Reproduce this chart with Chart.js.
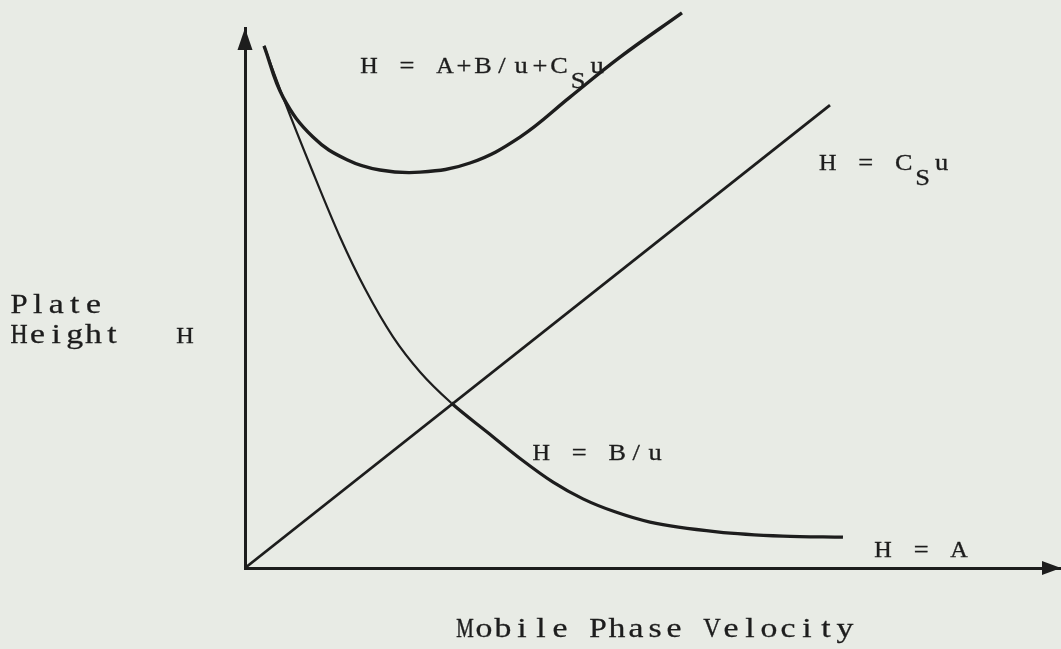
<!DOCTYPE html>
<html>
<head>
<meta charset="utf-8">
<title>Plate Height vs Mobile Phase Velocity</title>
<script src="https://cdn.jsdelivr.net/npm/chart.js@4/dist/chart.umd.min.js"></script>
<style>
  html, body { margin: 0; padding: 0; background: #e8ebe5; }
  #wrap { width: 1061px; height: 649px; }
</style>
</head>
<body>
<div id="wrap"><canvas id="plot" width="1061" height="649"></canvas></div>
<script>
// Van Deemter terms: plate height H against mobile phase velocity u (arbitrary units)

// H = B/u term, flattening out towards H = A
const diffusionU = [0.233, 0.466, 0.821, 1.164, 1.471, 1.814, 2.145, 2.525, 2.966, 3.395, 3.775, 4.142, 4.534, 4.963, 5.784, 6.593, 7.328];
const diffusionH = [9.67, 8.72, 7.37, 6.13, 5.17, 4.28, 3.63, 3.06, 2.52, 2.00, 1.59, 1.28, 1.04, 0.85, 0.67, 0.59, 0.57];

// H = Cs·u term (straight line through the origin)
const massTransferU = [0, 7.169];
const massTransferH = [0, 8.57];

// Overall curve H = A + B/u + Cs·u
const totalU = [0.233, 0.466, 0.833, 1.250, 1.654, 2.145, 2.757, 3.370, 3.983, 4.596, 5.355];
const totalH = [9.67, 8.72, 7.98, 7.56, 7.37, 7.33, 7.50, 7.98, 8.72, 9.46, 10.28];

// Axis extent
const axisMaxU = 10;
const axisMaxH = 10;

// Curve labels (typewriter style, "_" marks a subscript character)
const curveLabels = ['H = A+B/u+C_Su', 'H = C_Su', 'H = B/u', 'H = A'];

const INK = '#1d1d1d';
const PAPER = '#e8ebe5';
const TYPEFACE = "'Liberation Serif', 'DejaVu Serif', serif";

function toPoints(us, hs) {
  return us.map((u, i) => ({ x: u, y: hs[i] }));
}

// where each curve label sits, in data units (centre of first glyph, baseline)
const labelAnchors = [
  { u: 1.52, h: 9.17 },
  { u: 7.14, h: 7.37 },
  { u: 3.63, h: 2.00 },
  { u: 7.82, h: 0.20 }
];

// fixed-pitch "typewriter" text: one glyph per slot, glyphs widened up to
// `widen` but never wider than the slot, lightly stroked for an even weight
function typeText(ctx, text, cx, baseline, advance, subDrop, widen) {
  let slot = 0;
  for (let i = 0; i < text.length; i++) {
    let ch = text[i];
    let sub = false;
    if (ch === '_') { sub = true; ch = text[++i]; }
    if (ch !== ' ') {
      const px = cx + slot * advance;
      const py = baseline + (sub ? subDrop : 0);
      const w = ctx.measureText(ch).width;
      const limit = advance * 0.92;
      const k = Math.min(widen, limit / w);
      ctx.save();
      ctx.translate(px, py);
      ctx.scale(k, 1);
      ctx.lineWidth = 0.35 / k;
      ctx.fillText(ch, 0, 0);
      ctx.strokeText(ch, 0, 0);
      ctx.restore();
    }
    slot++;
  }
}

const paperAndText = {
  id: 'paperAndText',
  beforeDraw(chart) {
    const { ctx, width, height } = chart;
    ctx.save();
    ctx.fillStyle = PAPER;
    ctx.fillRect(0, 0, width, height);
    ctx.restore();
  },
  afterDraw(chart) {
    const { ctx, chartArea, scales: { x, y } } = chart;
    const ox = x.getPixelForValue(0);
    const oy = y.getPixelForValue(0);
    const topY = y.getPixelForValue(axisMaxH);
    const rightX = x.getPixelForValue(axisMaxU);

    ctx.save();
    ctx.fillStyle = INK;
    ctx.strokeStyle = INK;

    // arrowheads on both axes
    ctx.beginPath();
    ctx.moveTo(ox, topY);
    ctx.lineTo(ox - 7.5, topY + 22);
    ctx.lineTo(ox + 7.5, topY + 22);
    ctx.closePath();
    ctx.fill();

    ctx.beginPath();
    ctx.moveTo(rightX, oy);
    ctx.lineTo(rightX - 19, oy - 7);
    ctx.lineTo(rightX - 19, oy + 7);
    ctx.closePath();
    ctx.fill();

    ctx.textAlign = 'center';
    ctx.textBaseline = 'alphabetic';

    // curve labels
    ctx.font = '23px ' + TYPEFACE;
    curveLabels.forEach((txt, i) => {
      const a = labelAnchors[i];
      typeText(ctx, txt, x.getPixelForValue(a.u), y.getPixelForValue(a.h), 19, 15, 1.15);
    });

    // axis titles
    const midY = (chartArea.top + chartArea.bottom) / 2;
    ctx.font = '27px ' + TYPEFACE;
    typeText(ctx, 'Plate', 19, midY + 15, 18.6, 0, 1.25);
    typeText(ctx, 'Height', 19, midY + 45, 18.6, 0, 1.25);

    ctx.font = '23px ' + TYPEFACE;
    typeText(ctx, 'H', ox - 60, midY + 45, 19, 0, 1.15);

    ctx.font = '27px ' + TYPEFACE;
    const title = 'Mobile Phase Velocity';
    const pitch = 19;
    const cx = (chartArea.left + chartArea.right) / 2 + 2;
    typeText(ctx, title, cx - pitch * (title.length - 1) / 2, chartArea.bottom + 69, pitch, 0, 1.25);
    ctx.restore();
  }
};

const lineStyle = {
  showLine: true,
  pointRadius: 0,
  pointHoverRadius: 0,
  borderColor: INK,
  backgroundColor: INK,
  fill: false,
  clip: false
};

new Chart(document.getElementById('plot'), {
  type: 'scatter',
  data: {
    datasets: [
      Object.assign({}, lineStyle, {
        label: 'H = B/u',
        data: toPoints(diffusionU, diffusionH),
        cubicInterpolationMode: 'monotone',
        borderWidth: 2.6,
        segment: {
          borderWidth: c => (c.p1.parsed.x <= 2.6 ? 2.2 : 3.2)
        }
      }),
      Object.assign({}, lineStyle, {
        label: 'H = Cs u',
        data: toPoints(massTransferU, massTransferH),
        borderWidth: 2.8
      }),
      Object.assign({}, lineStyle, {
        label: 'H = A + B/u + Cs u',
        data: toPoints(totalU, totalH),
        tension: 0.4,
        borderWidth: 3.4
      })
    ]
  },
  options: {
    responsive: false,
    animation: false,
    devicePixelRatio: 1,
    layout: { padding: { left: 245, top: 28, right: 0, bottom: 81 } },
    plugins: {
      legend: { display: false },
      tooltip: { enabled: false },
      title: { display: false }
    },
    events: [],
    scales: {
      x: {
        type: 'linear',
        min: 0,
        max: axisMaxU,
        grid: { display: false },
        ticks: { display: false },
        border: { display: true, color: INK, width: 3 },
        afterFit: s => { s.height = 0; }
      },
      y: {
        type: 'linear',
        min: 0,
        max: axisMaxH,
        grid: { display: false },
        ticks: { display: false },
        border: { display: true, color: INK, width: 3 },
        afterFit: s => { s.width = 0; }
      }
    }
  },
  plugins: [paperAndText]
});
</script>
</body>
</html>
